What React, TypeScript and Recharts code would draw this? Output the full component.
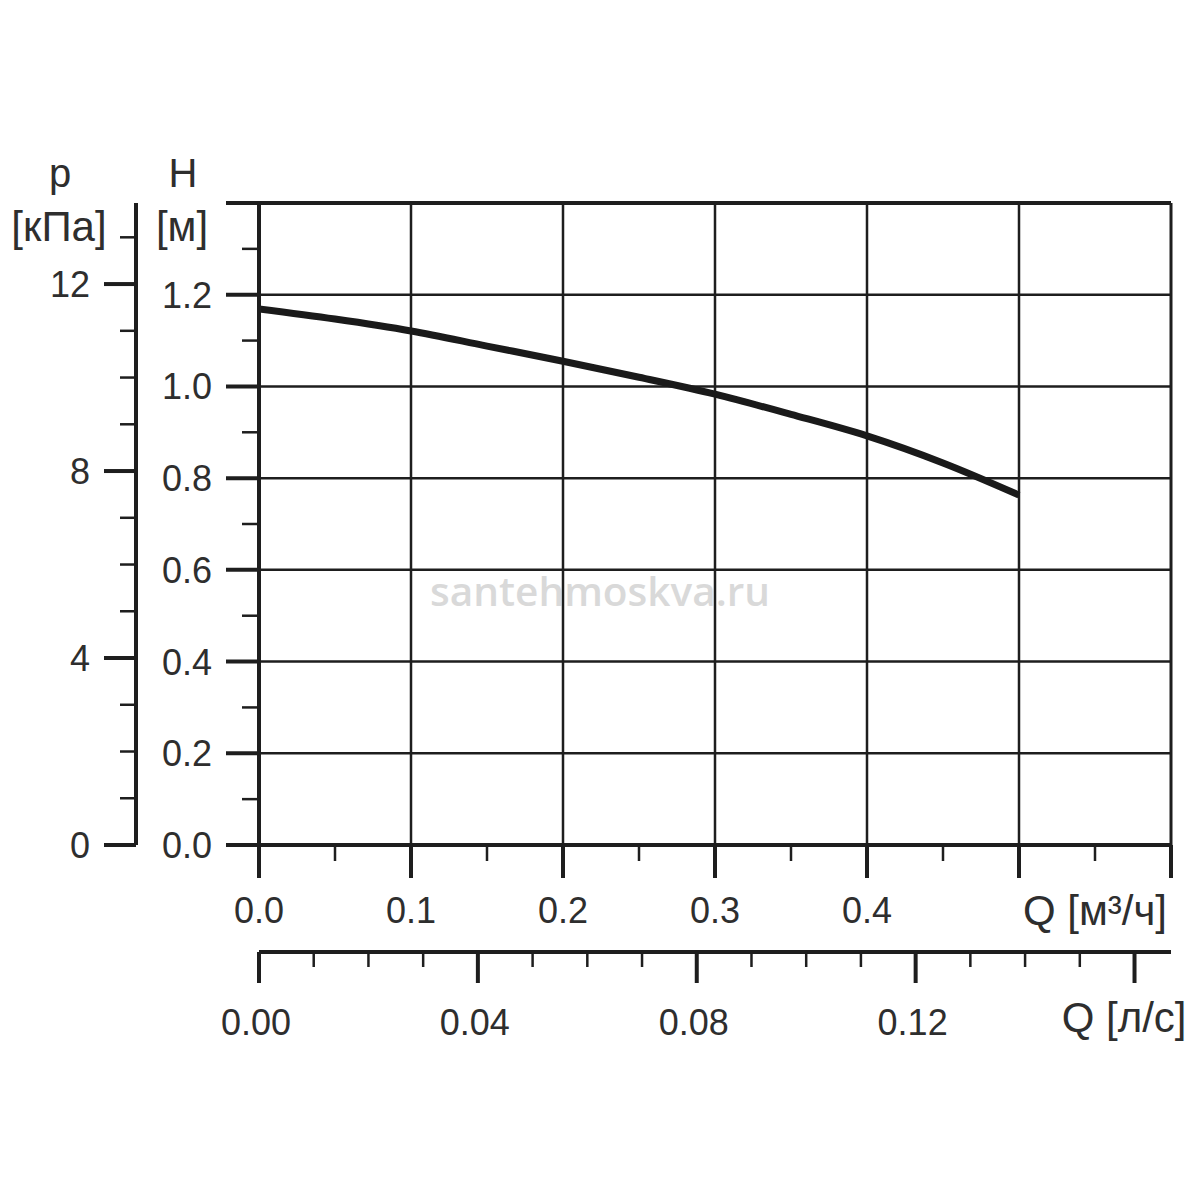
import React from 'react';
import { LineChart, Line, XAxis, YAxis, ReferenceLine, Label } from 'recharts';

// pump curve: flow in m³/h, head in m
const flowM3h = [0, 0.05, 0.1, 0.15, 0.2, 0.25, 0.3, 0.35, 0.4, 0.45, 0.5];
const headM = [1.169, 1.147, 1.121, 1.088, 1.055, 1.02, 0.983, 0.939, 0.892, 0.833, 0.763];

const hMax = 1.4;
const qMax = 0.6;
const kPaPerMetre = 9.81;
const m3hPerLs = 3.6;

const hTicks = [0, 0.1, 0.2, 0.3, 0.4, 0.5, 0.6, 0.7, 0.8, 0.9, 1.0, 1.1, 1.2, 1.3, 1.4];
const hMajor = [0, 0.2, 0.4, 0.6, 0.8, 1.0, 1.2, 1.4];
const hLabels = ['0.0', '0.2', '0.4', '0.6', '0.8', '1.0', '1.2'];

const pTicks = [0, 1, 2, 3, 4, 5, 6, 7, 8, 9, 10, 11, 12, 13];
const pMajor = [0, 4, 8, 12];

const qTicks = [0, 0.05, 0.1, 0.15, 0.2, 0.25, 0.3, 0.35, 0.4, 0.45, 0.5, 0.55, 0.6];
const qMajor = [0, 0.1, 0.2, 0.3, 0.4, 0.5, 0.6];
const qLabels = ['0.0', '0.1', '0.2', '0.3', '0.4'];

const lsTicks = [0, 0.01, 0.02, 0.03, 0.04, 0.05, 0.06, 0.07, 0.08, 0.09, 0.1, 0.11, 0.12, 0.13, 0.14, 0.15, 0.16];
const lsMajor = [0, 0.04, 0.08, 0.12, 0.16];
const lsLabels = ['0.00', '0.04', '0.08', '0.12'];

const gridH = [0.2, 0.4, 0.6, 0.8, 1.0, 1.2];
const gridQ = [0.1, 0.2, 0.3, 0.4, 0.5];

const curve = flowM3h.map((q, i) => ({ q, ls: q / m3hPerLs, h: headM[i] }));

const FONT = '"Liberation Sans", Arial, sans-serif';
const INK = '#1e1e1e';
const TEXT = '#2e2e2e';

const indexOf = (list: number[], v: number) => list.findIndex(t => Math.abs(t - v) < 1e-6);

const HTick = (props: any) => {
  const { x, y, payload } = props;
  const i = indexOf(hMajor, payload.value);
  const len = i >= 0 ? 33 : 17;
  return (
    <g>
      <line x1={x - len} x2={x} y1={y} y2={y} stroke={INK} strokeWidth={i >= 0 ? 4 : 2.5} />
      {i >= 0 && hLabels[i] && (
        <text x={x - 47} y={y + 13} textAnchor="end" fontSize={36} fontFamily={FONT} fill={TEXT}>
          {hLabels[i]}
        </text>
      )}
    </g>
  );
};

const PTick = (props: any) => {
  const { x, y, payload } = props;
  const major = indexOf(pMajor, payload.value) >= 0;
  const len = major ? 32 : 16;
  return (
    <g>
      <line x1={x - len} x2={x} y1={y} y2={y} stroke={INK} strokeWidth={major ? 4 : 2.5} />
      {major && (
        <text x={x - 46} y={y + 13} textAnchor="end" fontSize={36} fontFamily={FONT} fill={TEXT}>
          {payload.value}
        </text>
      )}
    </g>
  );
};

const QTick = (props: any) => {
  const { x, y, payload } = props;
  const i = indexOf(qMajor, payload.value);
  const len = i >= 0 ? 33 : 16;
  const last = i === qMajor.length - 1;
  return (
    <g>
      <line x1={x} x2={x} y1={y} y2={y + len} stroke={INK} strokeWidth={i >= 0 ? 4 : 2.5} />
      {i >= 0 && qLabels[i] && (
        <text x={x} y={y + 78} textAnchor="middle" fontSize={36} fontFamily={FONT} fill={TEXT}>
          {qLabels[i]}
        </text>
      )}
      {last && (
        <text x={x - 4} y={y + 80} textAnchor="end" fontSize={42} fontFamily={FONT} fill={TEXT}>
          Q [м³/ч]
        </text>
      )}
    </g>
  );
};

const LsTick = (props: any) => {
  const { x, y, payload } = props;
  const i = indexOf(lsMajor, payload.value);
  const len = i >= 0 ? 31 : 15;
  return (
    <g>
      <line x1={x} x2={x} y1={y} y2={y + len} stroke={INK} strokeWidth={i >= 0 ? 4 : 2.5} />
      {i >= 0 && lsLabels[i] && (
        <text x={x - 3} y={y + 83} textAnchor="middle" fontSize={36} fontFamily={FONT} fill={TEXT}>
          {lsLabels[i]}
        </text>
      )}
      {i === lsMajor.length - 1 && (
        <text x={x + 52} y={y + 80} textAnchor="end" fontSize={42} fontFamily={FONT} fill={TEXT}>
          Q [л/с]
        </text>
      )}
    </g>
  );
};

// axis titles sit above the top end of each vertical axis
const axisTitle = (name: string, unit: string) => (props: any) => {
  const vb = props.viewBox || {};
  const ax = vb.x + vb.width;
  return (
    <g fontFamily={FONT} fill={TEXT} textAnchor="middle">
      <text x={ax - 76} y={vb.y - 16} fontSize={40}>{name}</text>
      <text x={ax - 77} y={vb.y + 38} fontSize={42}>{unit}</text>
    </g>
  );
};

export default function App() {
  return (
    <div style={{ position: 'absolute', left: 0, top: 0, width: 1200, height: 1200, background: '#fff' }}>
      <svg width={1200} height={1200} style={{ position: 'absolute', left: 0, top: 0 }}>
        <text
          x={430}
          y={606}
          textLength={340}
          lengthAdjust="spacingAndGlyphs"
          fontSize={40}
          fontWeight={600}
          fontFamily='"Open Sans", sans-serif'
          fill="#d9d9d9"
        >
          santehmoskva.ru
        </text>
      </svg>
      <div style={{ position: 'absolute', left: 0, top: 0 }}>
        <LineChart width={1200} height={1200} data={curve} margin={{ top: 203, right: 29, bottom: 148, left: 36 }}>
          <XAxis
            xAxisId="flow"
            dataKey="q"
            type="number"
            domain={[0, qMax]}
            ticks={qTicks}
            interval={0}
            allowDataOverflow
            height={107}
            tickSize={0}
            tickMargin={0}
            tickLine={false}
            tick={<QTick />}
            axisLine={{ stroke: INK, strokeWidth: 4 }}
          />
          <XAxis
            xAxisId="ls"
            dataKey="ls"
            type="number"
            domain={[0, qMax / m3hPerLs]}
            ticks={lsTicks}
            interval={0}
            allowDataOverflow
            height={100}
            tickSize={0}
            tickMargin={0}
            tickLine={false}
            tick={<LsTick />}
            axisLine={{ stroke: INK, strokeWidth: 4 }}
          />
          <YAxis
            yAxisId="head"
            type="number"
            domain={[0, hMax]}
            ticks={hTicks}
            interval={0}
            allowDataOverflow
            width={123}
            tickSize={0}
            tickMargin={0}
            tickLine={false}
            tick={<HTick />}
            axisLine={{ stroke: INK, strokeWidth: 4 }}
          >
            <Label content={axisTitle('H', '[м]')} />
          </YAxis>
          <YAxis
            yAxisId="pressure"
            type="number"
            domain={[0, hMax * kPaPerMetre]}
            ticks={pTicks}
            interval={0}
            allowDataOverflow
            width={100}
            tickSize={0}
            tickMargin={0}
            tickLine={false}
            tick={<PTick />}
            axisLine={{ stroke: INK, strokeWidth: 4 }}
          >
            <Label content={axisTitle('p', '[кПа]')} />
          </YAxis>
          {gridH.map(v => (
            <ReferenceLine key={'h' + v} xAxisId="flow" yAxisId="head" y={v} stroke={INK} strokeWidth={2.5} />
          ))}
          {gridQ.map(v => (
            <ReferenceLine key={'q' + v} xAxisId="flow" yAxisId="head" x={v} stroke={INK} strokeWidth={2.5} />
          ))}
          <ReferenceLine xAxisId="flow" yAxisId="head" y={hMax} stroke={INK} strokeWidth={4} />
          <ReferenceLine xAxisId="flow" yAxisId="head" x={qMax} stroke={INK} strokeWidth={3} />
          <Line
            xAxisId="flow"
            yAxisId="head"
            dataKey="h"
            type="monotone"
            stroke="#1a1a1a"
            strokeWidth={7}
            dot={false}
            activeDot={false}
            isAnimationActive={false}
          />
        </LineChart>
      </div>
    </div>
  );
}
